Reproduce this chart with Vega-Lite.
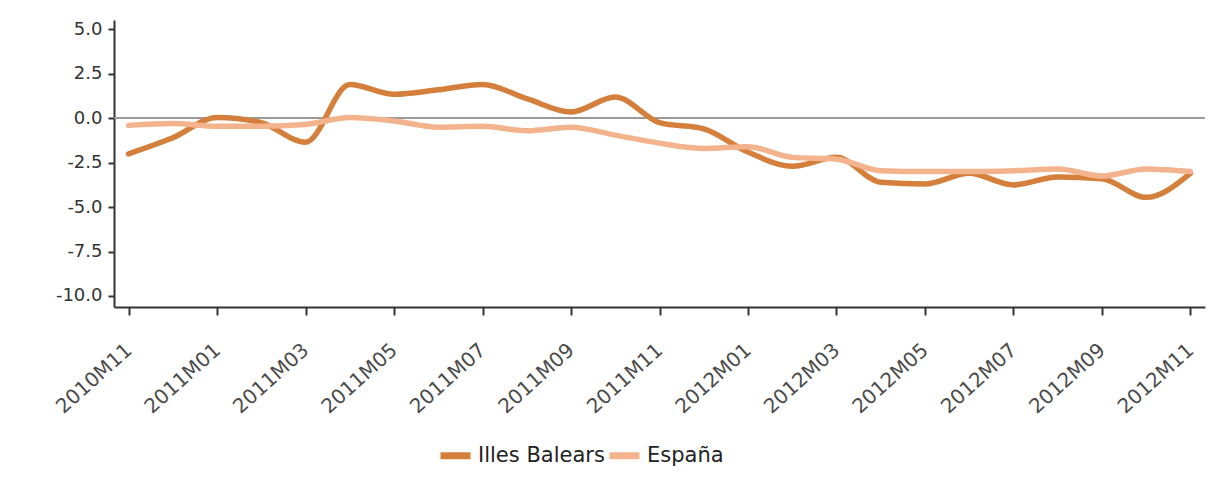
{
  "$schema": "https://vega.github.io/schema/vega-lite/v6.json",
  "autosize": {"type": "none"},
  "width": 1091,
  "height": 287,
  "padding": {"left": 114, "top": 20, "right": 6, "bottom": 177},
  "background": "white",
  "config": {
    "view": {"stroke": null},
    "axis": {"grid": false, "labelFont": "DejaVu Sans", "labelColor": "#333333", "domainColor": "#333333", "tickColor": "#333333", "domainWidth": 2, "tickWidth": 2}
  },
  "datasets": {
    "series": [
      {"mes": "2010M11", "region": "Illes Balears", "valor": -2.0},
      {"mes": "2010M12", "region": "Illes Balears", "valor": -1.1},
      {"mes": "2011M01", "region": "Illes Balears", "valor": 0.05},
      {"mes": "2011M02", "region": "Illes Balears", "valor": -0.25},
      {"mes": "2011M03", "region": "Illes Balears", "valor": -1.35},
      {"mes": "2011M04", "region": "Illes Balears", "valor": 1.9},
      {"mes": "2011M05", "region": "Illes Balears", "valor": 1.35},
      {"mes": "2011M06", "region": "Illes Balears", "valor": 1.6},
      {"mes": "2011M07", "region": "Illes Balears", "valor": 1.9},
      {"mes": "2011M08", "region": "Illes Balears", "valor": 1.1},
      {"mes": "2011M09", "region": "Illes Balears", "valor": 0.35},
      {"mes": "2011M10", "region": "Illes Balears", "valor": 1.2},
      {"mes": "2011M11", "region": "Illes Balears", "valor": -0.25},
      {"mes": "2011M12", "region": "Illes Balears", "valor": -0.6},
      {"mes": "2012M01", "region": "Illes Balears", "valor": -1.9},
      {"mes": "2012M02", "region": "Illes Balears", "valor": -2.7},
      {"mes": "2012M03", "region": "Illes Balears", "valor": -2.2},
      {"mes": "2012M04", "region": "Illes Balears", "valor": -3.6},
      {"mes": "2012M05", "region": "Illes Balears", "valor": -3.7},
      {"mes": "2012M06", "region": "Illes Balears", "valor": -3.1},
      {"mes": "2012M07", "region": "Illes Balears", "valor": -3.75},
      {"mes": "2012M08", "region": "Illes Balears", "valor": -3.3},
      {"mes": "2012M09", "region": "Illes Balears", "valor": -3.4},
      {"mes": "2012M10", "region": "Illes Balears", "valor": -4.45},
      {"mes": "2012M11", "region": "Illes Balears", "valor": -3.1},
      {"mes": "2010M11", "region": "España", "valor": -0.4},
      {"mes": "2010M12", "region": "España", "valor": -0.3},
      {"mes": "2011M01", "region": "España", "valor": -0.45},
      {"mes": "2011M02", "region": "España", "valor": -0.45},
      {"mes": "2011M03", "region": "España", "valor": -0.35},
      {"mes": "2011M04", "region": "España", "valor": 0.05},
      {"mes": "2011M05", "region": "España", "valor": -0.15},
      {"mes": "2011M06", "region": "España", "valor": -0.5},
      {"mes": "2011M07", "region": "España", "valor": -0.45},
      {"mes": "2011M08", "region": "España", "valor": -0.7},
      {"mes": "2011M09", "region": "España", "valor": -0.5},
      {"mes": "2011M10", "region": "España", "valor": -0.95},
      {"mes": "2011M11", "region": "España", "valor": -1.4},
      {"mes": "2011M12", "region": "España", "valor": -1.7},
      {"mes": "2012M01", "region": "España", "valor": -1.6},
      {"mes": "2012M02", "region": "España", "valor": -2.2},
      {"mes": "2012M03", "region": "España", "valor": -2.3},
      {"mes": "2012M04", "region": "España", "valor": -2.95},
      {"mes": "2012M05", "region": "España", "valor": -3.0},
      {"mes": "2012M06", "region": "España", "valor": -3.0},
      {"mes": "2012M07", "region": "España", "valor": -2.95},
      {"mes": "2012M08", "region": "España", "valor": -2.85},
      {"mes": "2012M09", "region": "España", "valor": -3.25},
      {"mes": "2012M10", "region": "España", "valor": -2.85},
      {"mes": "2012M11", "region": "España", "valor": -3.0}
    ]
  },
  "data": {"name": "series"},
  "encoding": {
    "x": {
      "field": "mes", "type": "ordinal", "sort": null,
      "scale": {"type": "point", "padding": 0.33},
      "axis": {
        "title": null,
        "values": ["2010M11", "2011M01", "2011M03", "2011M05", "2011M07", "2011M09", "2011M11", "2012M01", "2012M03", "2012M05", "2012M07", "2012M09", "2012M11"],
        "labelAngle": -42, "labelAlign": "right", "labelBaseline": "middle",
        "labelFontSize": 20, "labelColor": "#4a4a4a", "labelPadding": 32, "tickSize": 8
      }
    }
  },
  "layer": [
    {
      "mark": {"type": "rule", "color": "#999999", "strokeWidth": 1.5},
      "encoding": {"y": {"datum": 0, "type": "quantitative"}, "x": null}
    },
    {
      "mark": {"type": "line", "interpolate": "monotone", "strokeWidth": 5.5, "strokeCap": "round"},
      "encoding": {
        "y": {
          "field": "valor", "type": "quantitative",
          "scale": {"domain": [-10.62, 5.53], "nice": false, "zero": false},
          "axis": {"title": null, "values": [-10, -7.5, -5, -2.5, 0, 2.5, 5], "labelExpr": "replace(format(datum.value, '.1f'), '\u2212', '-')", "labelFontSize": 18, "tickSize": 6, "labelPadding": 6}
        },
        "color": {
          "field": "region", "type": "nominal",
          "scale": {"domain": ["Illes Balears", "España"], "range": ["#d4803c", "#f3b38c"]},
          "legend": {
            "title": null, "orient": "none", "direction": "horizontal",
            "legendX": 323, "legendY": 417,
            "symbolType": "stroke", "symbolStrokeWidth": 7, "symbolSize": 900,
            "labelFont": "DejaVu Sans", "labelFontSize": 21, "labelColor": "#222222",
            "labelOffset": 4, "columnPadding": -10
          }
        }
      }
    }
  ]
}
